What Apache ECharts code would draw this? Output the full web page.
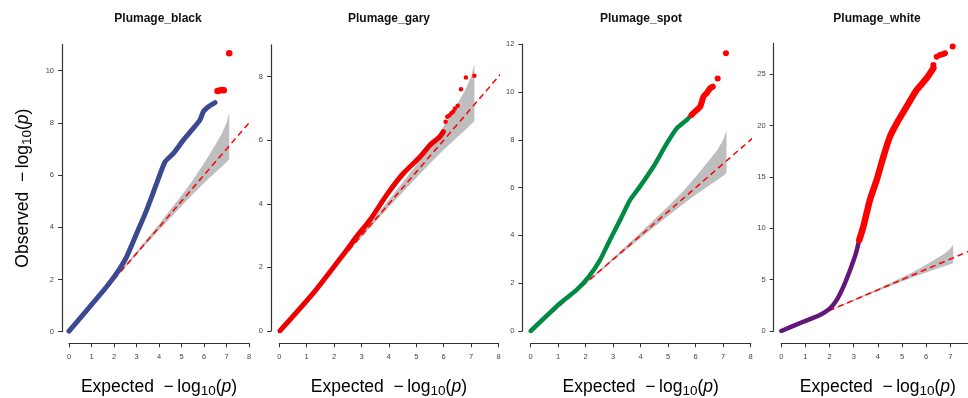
<!DOCTYPE html>
<html>
<head>
<meta charset="utf-8">
<title>QQ plot</title>
<script src="https://cdn.jsdelivr.net/npm/echarts@6/dist/echarts.min.js"></script>
<style>
    html, body { margin: 0; padding: 0; background: #fff; }
    #main { width: 968px; height: 398px; }
</style>
</head>
<body>
<div id="main"></div>
<script>
// 面板标题
const panelTitles = ['Plumage_black', 'Plumage_gary', 'Plumage_spot', 'Plumage_white'];
// 刻度
const xTicks = [0, 1, 2, 3, 4, 5, 6, 7, 8];
const yTicksBlack = [0, 2, 4, 6, 8, 10];
const yTicksGary = [0, 2, 4, 6, 8];
const yTicksSpot = [0, 2, 4, 6, 8, 10, 12];
const yTicksWhite = [0, 5, 10, 15, 20, 25];
const yTops = [11, 9, 12, 28];

// 曲线 [expected, observed]
const blackCurve = [[0, 0.02], [0.93, 0.96], [1.67, 1.72], [2.12, 2.24], [2.56, 2.87], [3.01, 3.77], [3.45, 4.66],
    [3.9, 5.69], [4.27, 6.51], [4.64, 6.83], [5.08, 7.34], [5.52, 7.79], [5.82, 8.11], [5.97, 8.43], [6.19, 8.62], [6.49, 8.78]];
const blackSig = [[6.6, 9.22], [6.7, 9.24], [6.8, 9.26], [6.88, 9.25], [7.12, 10.67]];

const garyCurve = [[0.03, 0.01], [1.24, 1.19], [2.46, 2.55], [2.82, 2.97], [3.31, 3.49], [3.92, 4.28], [4.53, 4.96],
    [5.14, 5.48], [5.5, 5.85], [5.86, 6.11], [5.99, 6.27]];
const garySig = [[6.07, 6.58], [6.13, 6.74], [6.2, 6.78], [6.28, 6.85], [6.35, 6.9], [6.41, 7.0], [6.51, 7.08],
    [6.63, 7.6], [6.81, 7.97], [7.12, 8.03]];

const spotCurve = [[0, 0], [1.07, 1.16], [1.67, 1.72], [2.1, 2.25], [2.52, 2.97], [2.88, 3.81], [3.25, 4.64], [3.61, 5.48],
    [3.97, 6.04], [4.46, 6.87], [4.95, 7.85], [5.31, 8.48], [5.67, 8.83], [5.85, 9.04]];
const spotSigCurve = [[5.85, 9.04], [5.97, 9.18], [6.16, 9.38], [6.28, 9.8], [6.4, 9.95], [6.52, 10.15], [6.62, 10.22]];
const spotSig = [[6.8, 10.57], [7.1, 11.62]];

const whiteCurve = [[0, 0], [0.91, 0.9], [1.6, 1.56], [2.02, 2.2], [2.29, 3.0], [2.57, 4.3], [2.85, 5.94], [3.09, 7.56], [3.23, 8.86]];
const whiteSigCurve = [[3.23, 8.86], [3.4, 10.16], [3.67, 12.75], [3.95, 14.7], [4.23, 16.97], [4.5, 18.92], [4.78, 20.22],
    [5.19, 21.84], [5.61, 23.47], [6.02, 24.6], [6.3, 25.58]];
const whiteSig = [[6.3, 25.9], [6.44, 26.7], [6.57, 26.87], [6.68, 26.95], [6.78, 27.04], [7.1, 27.7]];

// 95% 置信带
const bandX = [2, 3, 4, 5, 5.5, 6, 6.5, 6.8, 7.0, 7.12];
const bandHi = [2.03, 3.06, 4.12, 5.22, 5.8, 6.45, 7.15, 7.6, 8.0, 8.4];
const bandLo = [1.97, 2.95, 3.9, 4.82, 5.27, 5.7, 6.1, 6.33, 6.5, 6.6];
// 对角线端点
const diagX = [-0.32, 8.32];

// 布局 (像素)
const panels = [
    { left: 69, top: 44.6, width: 180, height: 287.1, xOff: 11.6, yOff: 7, cx: 158 },
    { left: 279.3, top: 44.8, width: 219.2, height: 286.2, xOff: 12.3, yOff: 8.3, cx: 389 },
    { left: 530.7, top: 44.2, width: 220, height: 286.8, xOff: 12.3, yOff: 8.4, cx: 641 },
    { left: 781.3, top: 43.4, width: 193.1, height: 287.6, xOff: 12.3, yOff: 7.6, cx: 877 }
];
const yTickList = [yTicksBlack, yTicksGary, yTicksSpot, yTicksWhite];

const FONT = 'Liberation Sans';
const nameRich = {
    t: { fontSize: 17.5, fontFamily: FONT, color: '#000' },
    s: { fontSize: 13.5, fontFamily: FONT, color: '#000', padding: [8, 0, 0, 0] },
    i: { fontSize: 17.5, fontFamily: FONT, color: '#000', fontStyle: 'italic' }
};
function logName(word) {
    return '{t|' + word + '  \u2212\u2009log}{s|10}{t|(}{i|p}{t|)}';
}

function axisCommon() {
    return {
        axisLine: { show: true, onZero: false, lineStyle: { color: '#333', width: 1.2 } },
        axisTick: { show: true, length: 4, lineStyle: { color: '#333', width: 1 } },
        axisLabel: { fontSize: 7.5, color: '#444', fontFamily: FONT },
        splitLine: { show: false }
    };
}

// 置信带多边形
function bandRender(params, api) {
    const pts = [];
    bandX.forEach(function(x, k) { pts.push(api.coord([x, bandHi[k]])); });
    for (let k = bandX.length - 1; k >= 0; k--) { pts.push(api.coord([bandX[k], bandLo[k]])); }
    return { type: 'polygon', shape: { points: pts }, style: { fill: '#BEBEBE' } };
}

const grids = [], xAxes = [], yAxes = [], series = [], graphics = [];
panels.forEach(function(p, i) {
    grids.push({ left: p.left, top: p.top, width: p.width, height: p.height, containLabel: false, outerBoundsMode: 'none' });
    const xa = axisCommon();
    Object.assign(xa, {
        type: 'value', gridIndex: i, min: 0, max: 8, offset: p.xOff,
        name: logName('Expected'), nameLocation: 'middle', nameGap: 33,
        nameTextStyle: { rich: nameRich }
    });
    xa.axisTick.customValues = xTicks;
    xa.axisLabel.customValues = xTicks;
    xa.axisLabel.margin = 10;
    xAxes.push(xa);
    const ya = axisCommon();
    Object.assign(ya, { type: 'value', gridIndex: i, min: 0, max: yTops[i], offset: p.yOff });
    ya.axisTick.customValues = yTickList[i];
    ya.axisLabel.customValues = yTickList[i];
    ya.axisLabel.margin = 8;
    if (i === 0) {
        Object.assign(ya, {
            name: logName('Observed'), nameLocation: 'middle', nameRotate: 90, nameGap: 28,
            nameTextStyle: { rich: nameRich }
        });
    }
    yAxes.push(ya);
    graphics.push({
        type: 'text', x: p.cx, y: 19,
        style: { text: panelTitles[i], textAlign: 'center', textVerticalAlign: 'middle',
            font: 'bold 12px "Liberation Sans"', fill: '#111' }
    });
    series.push({
        type: 'custom', xAxisIndex: i, yAxisIndex: i, renderItem: bandRender,
        data: [[bandX[0], bandLo[0]]], z: 1, silent: true
    });
    series.push({
        type: 'line', xAxisIndex: i, yAxisIndex: i, clip: false, symbol: 'none', z: 2,
        data: diagX.map(function(v) { return [v, v]; }),
        lineStyle: { color: '#FF0000', width: 1.5, type: [6, 4] }
    });
});

function curve(idx, data, color, width) {
    series.push({
        type: 'line', xAxisIndex: idx, yAxisIndex: idx, data: data, symbol: 'none', smooth: 0.2, z: 3,
        lineStyle: { color: color, width: width, cap: 'round', join: 'round' }
    });
}
function dots(idx, data, size) {
    series.push({
        type: 'scatter', xAxisIndex: idx, yAxisIndex: idx, data: data, symbolSize: size, z: 4,
        itemStyle: { color: '#FF0000', opacity: 1 }
    });
}

curve(0, blackCurve, '#3B4992', 5);
dots(0, blackSig, 6.5);
curve(1, garyCurve, '#EE0000', 5);
dots(1, garySig, 4.5);
curve(2, spotCurve, '#008B45', 4.5);
curve(2, spotSigCurve, '#FF0000', 6);
dots(2, spotSig, 6);
curve(3, whiteCurve, '#631879', 4.5);
curve(3, whiteSigCurve, '#FF0000', 6.5);
dots(3, whiteSig, 6);

const chart = echarts.init(document.getElementById('main'));
chart.setOption({
    animation: false,
    backgroundColor: '#fff',
    textStyle: { fontFamily: FONT },
    grid: grids,
    xAxis: xAxes,
    yAxis: yAxes,
    series: series,
    graphic: graphics
});
</script>
</body>
</html>
